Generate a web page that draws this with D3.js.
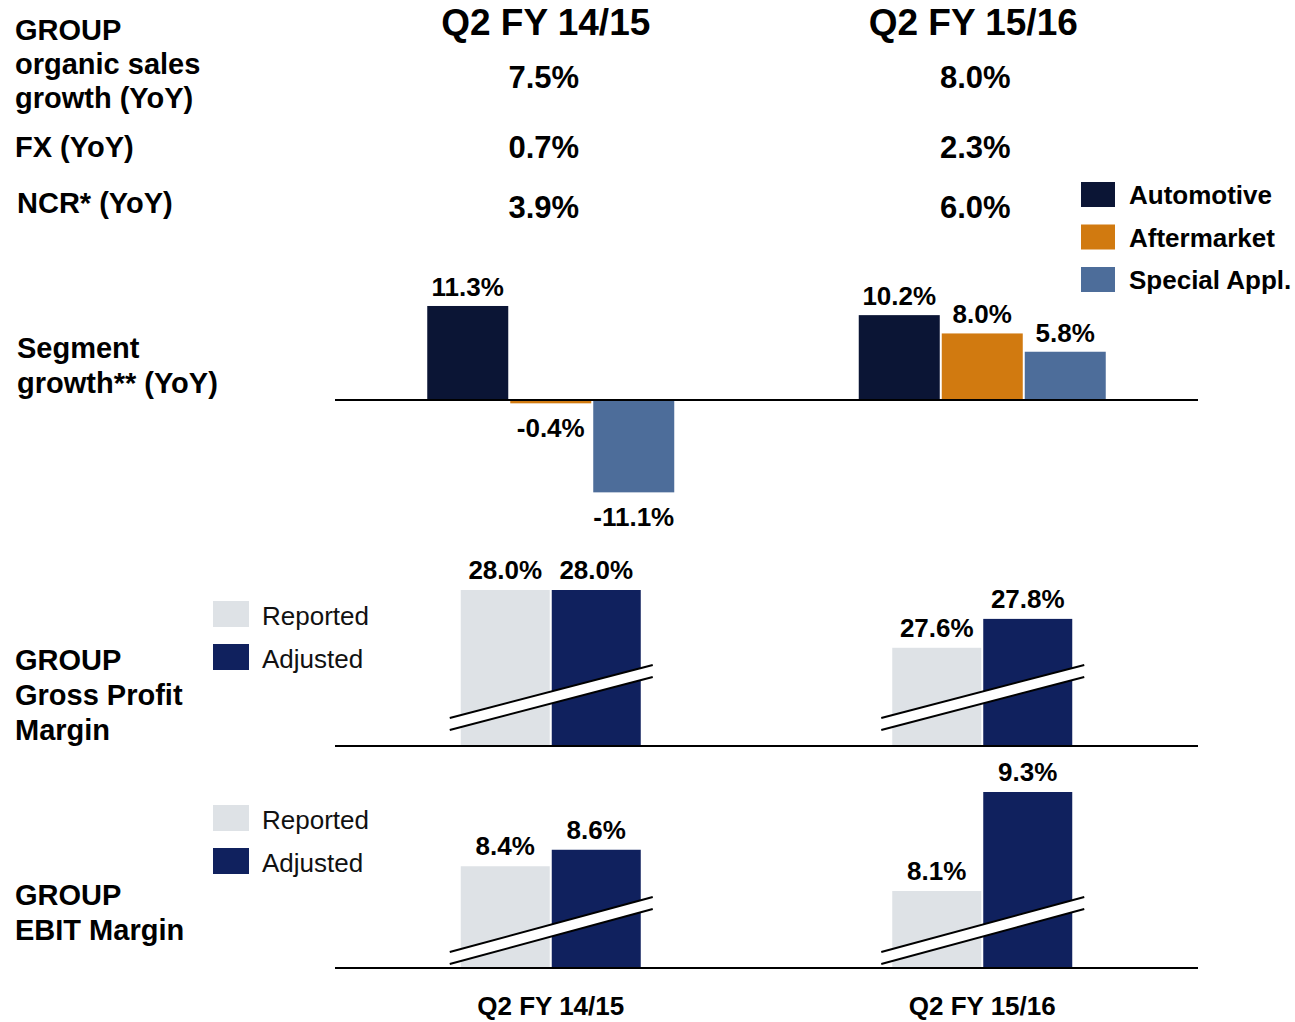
<!DOCTYPE html>
<html>
<head>
<meta charset="utf-8">
<script src="https://cdn.jsdelivr.net/npm/d3@7/dist/d3.min.js"></script>
<style>
  html, body { margin: 0; padding: 0; background: #fff; }
  svg { display: block; font-family: "Liberation Sans", Arial, sans-serif; }
</style>
</head>
<body>
<svg id="chart" width="1295" height="1022"></svg>
<script>
// ---- data ----
const periods = ["Q2 FY 14/15", "Q2 FY 15/16"];
const organicGrowth = [7.5, 8.0];
const fxEffect = [0.7, 2.3];
const ncrGrowth = [3.9, 6.0];

const segments = ["Automotive", "Aftermarket", "Special Appl."];
const automotiveGrowth = [11.3, 10.2];
const aftermarketGrowth = [-0.4, 8.0];
const specialGrowth = [-11.1, 5.8];

const marginTypes = ["Reported", "Adjusted"];
const grossReported = [28.0, 27.6];
const grossAdjusted = [28.0, 27.8];
const ebitReported = [8.4, 8.1];
const ebitAdjusted = [8.6, 9.3];

// ---- styling ----
const segmentColors = d3.scaleOrdinal(segments, ["#0b1535", "#d17a10", "#4d6d9a"]);
const marginColors = d3.scaleOrdinal(marginTypes, ["#dee2e6", "#10215e"]);
const locale = d3.formatLocale({ decimal: ".", thousands: ",", grouping: [3], currency: ["", ""], minus: "-" });
const pct = v => locale.format(".1f")(v) + "%";

const svg = d3.select("#chart");
const axisLeft = 335, axisRight = 1198;

// period columns for the bar panels
const x0 = d3.scaleBand(periods, [axisLeft, axisRight]);
const cx = p => x0(p) + x0.bandwidth() / 2;

// ---- top table ----
const xTable = d3.scaleBand(periods, [330, 1185]);
const tx = p => xTable(p) + xTable.bandwidth() / 2;

svg.selectAll("text.period-head").data(periods).join("text")
  .attr("class", "period-head")
  .attr("x", p => tx(p) + 2).attr("y", 35)
  .attr("text-anchor", "middle")
  .attr("font-size", 37).attr("font-weight", "bold")
  .text(p => p);

function leftLabel(lines, x, y0, lh, size) {
  const t = svg.append("text").attr("x", x).attr("font-size", size).attr("font-weight", "bold");
  lines.forEach((l, i) => t.append("tspan").attr("x", x).attr("y", y0 + i * lh).text(l));
}
leftLabel(["GROUP", "organic sales", "growth (YoY)"], 15, 40, 34, 29);
leftLabel(["FX (YoY)"], 15, 157, 34, 29);
leftLabel(["NCR* (YoY)"], 17, 213, 34, 29);

const tableRows = [
  { values: organicGrowth, y: 88 },
  { values: fxEffect, y: 158 },
  { values: ncrGrowth, y: 218 }
];
tableRows.forEach(row => {
  svg.append("g").selectAll("text").data(periods).join("text")
    .attr("x", (p, i) => tx(p) + (i === 0 ? 0 : 4)).attr("y", row.y)
    .attr("text-anchor", "middle")
    .attr("font-size", 31).attr("font-weight", "bold")
    .text((p, i) => pct(row.values[i]));
});

// ---- segment legend ----
const segLegend = svg.append("g").selectAll("g").data(segments).join("g")
  .attr("transform", (d, i) => `translate(1081,${182 + i * 42.5})`);
segLegend.append("rect").attr("width", 34).attr("height", 25).attr("fill", d => segmentColors(d));
segLegend.append("text").attr("x", 48).attr("y", 22)
  .attr("font-size", 26).attr("font-weight", "bold").text(d => d);

// ---- segment growth bars ----
leftLabel(["Segment", "growth** (YoY)"], 17, 358, 35, 29);

const segValues = [automotiveGrowth, aftermarketGrowth, specialGrowth];
const ySeg = d3.scaleLinear().domain([-12, 12]).range([400 + 12 * 8.32, 400 - 12 * 8.32]);
const x1Seg = d3.scaleBand(segments, [-123.5, 123.5]).paddingInner(0.024);

const segData = [];
periods.forEach((p, pi) => segments.forEach((s, si) => segData.push({ p, s, v: segValues[si][pi] })));

const segG = svg.append("g");
segG.selectAll("rect").data(segData).join("rect")
  .attr("x", d => cx(d.p) + x1Seg(d.s))
  .attr("width", x1Seg.bandwidth())
  .attr("y", d => ySeg(Math.max(0, d.v)))
  .attr("height", d => Math.abs(ySeg(d.v) - ySeg(0)))
  .attr("fill", d => segmentColors(d.s));
segG.selectAll("text").data(segData).join("text")
  .attr("x", d => cx(d.p) + x1Seg(d.s) + x1Seg.bandwidth() / 2)
  .attr("y", d => d.v >= 0 ? ySeg(d.v) - 10 : ySeg(d.v) + 34)
  .attr("text-anchor", "middle")
  .attr("font-size", 26).attr("font-weight", "bold")
  .text(d => pct(d.v));
svg.append("line").attr("x1", axisLeft).attr("x2", axisRight)
  .attr("y1", ySeg(0)).attr("y2", ySeg(0)).attr("stroke", "#000").attr("stroke-width", 2);

// ---- margin panels with broken value axis ----
const x1M = d3.scaleBand(marginTypes, [-90, 90]).paddingInner(0.022);

function marginPanel(cfg) {
  const g = svg.append("g");
  const y = d3.scaleLinear().domain(cfg.domain).range([cfg.base, cfg.topPx]);
  const data = [];
  periods.forEach((p, pi) => marginTypes.forEach((m, mi) =>
    data.push({ p, m, v: (mi === 0 ? cfg.reported : cfg.adjusted)[pi] })));

  g.selectAll("rect.bar").data(data).join("rect").attr("class", "bar")
    .attr("x", d => cx(d.p) + x1M(d.m))
    .attr("width", x1M.bandwidth())
    .attr("y", d => y(d.v))
    .attr("height", d => cfg.base - y(d.v))
    .attr("fill", d => marginColors(d.m));

  g.selectAll("text.val").data(data).join("text").attr("class", "val")
    .attr("x", d => cx(d.p) + x1M(d.m) + x1M.bandwidth() / 2)
    .attr("y", d => y(d.v) - 11)
    .attr("text-anchor", "middle")
    .attr("font-size", 26).attr("font-weight", "bold")
    .text(d => pct(d.v));

  // axis-break marks across each pair of bars
  periods.forEach(p => {
    const xl = cx(p) - 101, xr = cx(p) + 102;
    const yl = cfg.base - cfg.breakLeft, yr = cfg.base - cfg.breakRight, gap = 12;
    g.append("path")
      .attr("d", `M${xl},${yl}L${xr},${yr}L${xr},${yr + gap}L${xl},${yl + gap}Z`)
      .attr("fill", "#fff");
    [0, gap].forEach(o => g.append("line")
      .attr("x1", xl).attr("y1", yl + o).attr("x2", xr).attr("y2", yr + o)
      .attr("stroke", "#000").attr("stroke-width", 2));
  });

  g.append("line").attr("x1", axisLeft).attr("x2", axisRight)
    .attr("y1", cfg.base).attr("y2", cfg.base).attr("stroke", "#000").attr("stroke-width", 2);

  const lg = g.append("g").selectAll("g").data(marginTypes).join("g")
    .attr("transform", (d, i) => `translate(213,${cfg.legendY + i * 43})`);
  lg.append("rect").attr("width", 36).attr("height", 26).attr("fill", d => marginColors(d));
  lg.append("text").attr("x", 49).attr("y", 24).attr("font-size", 26).attr("fill", "#111").text(d => d);

  leftLabel(cfg.title, 15, cfg.titleY, 35, 29);
}

marginPanel({
  reported: grossReported, adjusted: grossAdjusted,
  domain: [26.92, 28.0], base: 746, topPx: 590,
  breakLeft: 28, breakRight: 81,
  legendY: 601, title: ["GROUP", "Gross Profit", "Margin"], titleY: 670
});

marginPanel({
  reported: ebitReported, adjusted: ebitAdjusted,
  domain: [7.167, 9.3], base: 968, topPx: 792,
  breakLeft: 16, breakRight: 71,
  legendY: 805, title: ["GROUP", "EBIT Margin"], titleY: 905
});

// ---- period labels under the panels ----
svg.selectAll("text.period-foot").data(periods).join("text")
  .attr("class", "period-foot")
  .attr("x", cx).attr("y", 1015)
  .attr("text-anchor", "middle")
  .attr("font-size", 26).attr("font-weight", "bold")
  .text(p => p);
</script>
</body>
</html>
